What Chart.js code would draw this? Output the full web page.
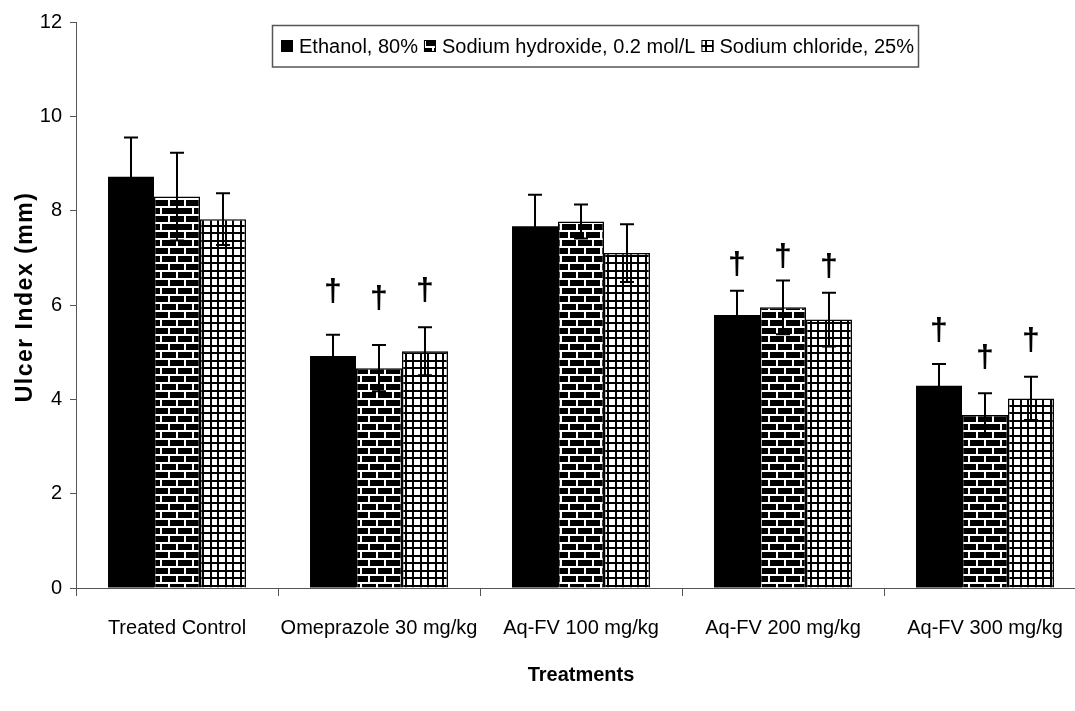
<!DOCTYPE html>
<html><head><meta charset="utf-8">
<script src="https://cdn.jsdelivr.net/npm/chart.js@4.4.1/dist/chart.umd.min.js"></script>
<style>html,body{margin:0;padding:0;background:#fff;overflow:hidden;width:1075px;height:711px}canvas{display:block}</style>
</head><body><canvas id="c" width="1090" height="711"></canvas>
<script>
const categories = ['Treated Control', 'Omeprazole 30 mg/kg', 'Aq-FV 100 mg/kg', 'Aq-FV 200 mg/kg', 'Aq-FV 300 mg/kg'];
const seriesNames = ['Ethanol, 80%', 'Sodium hydroxide, 0.2 mol/L', 'Sodium chloride, 25%'];
const ethanol = [8.72, 4.92, 7.67, 5.79, 4.29];
const ethanolErr = [0.83, 0.45, 0.67, 0.51, 0.46];
const naoh = [8.30, 4.66, 7.77, 5.95, 3.67];
const naohErr = [0.93, 0.49, 0.36, 0.57, 0.46];
const nacl = [7.82, 5.02, 7.10, 5.69, 4.02];
const naclErr = [0.55, 0.51, 0.61, 0.57, 0.46];
const daggerEthanol = [null, 6.28, null, 6.85, 5.45];
const daggerNaoh = [null, 6.13, null, 7.02, 4.88];
const daggerNacl = [null, 6.29, null, 6.81, 5.23];
const yTicks = [0, 2, 4, 6, 8, 10, 12];
const yTitle = 'Ulcer Index (mm)';
const xTitle = 'Treatments';
const markText = '\u2020';

const FONT = "'Liberation Sans', Arial, sans-serif";
Chart.defaults.font.family = FONT;
Chart.defaults.color = '#000';

function brickPattern() {
  const c = document.createElement('canvas'); c.width = 16; c.height = 16;
  const g = c.getContext('2d');
  g.fillStyle = '#000'; g.fillRect(0, 0, 16, 16);
  g.fillStyle = '#fff';
  g.fillRect(0, 6, 16, 2); g.fillRect(0, 14, 16, 2);
  g.fillRect(0, 0, 2, 6); g.fillRect(8, 8, 2, 6);
  return g.createPattern(c, 'repeat');
}
function gridPattern() {
  const c = document.createElement('canvas'); c.width = 15; c.height = 15;
  const g = c.getContext('2d');
  g.fillStyle = '#fff'; g.fillRect(0, 0, 15, 15);
  g.fillStyle = '#000';
  g.fillRect(0, 0, 15, 2); g.fillRect(0, 7, 15, 2);
  g.fillRect(0, 0, 2, 15); g.fillRect(7, 0, 2, 15);
  return g.createPattern(c, 'repeat');
}
const fills = ['#000', brickPattern(), gridPattern()];

const overlay = {
  id: 'overlay',
  afterDatasetsDraw(chart) {
    const ctx = chart.ctx, ys = chart.scales.y;
    chart.data.datasets.forEach((ds, i) => {
      const meta = chart.getDatasetMeta(i);
      meta.data.forEach((bar, j) => {
        const v = ds.data[j], e = ds.errors[j];
        const x = bar.x, yt = ys.getPixelForValue(v + e), yb = ys.getPixelForValue(v - e);
        ctx.save();
        ctx.strokeStyle = '#000'; ctx.lineWidth = 2;
        ctx.beginPath();
        ctx.moveTo(x, yb); ctx.lineTo(x, yt);
        ctx.moveTo(x - 7, yt); ctx.lineTo(x + 7, yt);
        ctx.moveTo(x - 7, yb); ctx.lineTo(x + 7, yb);
        ctx.stroke();
        const d = ds.daggers[j];
        if (d != null) {
          ctx.font = 'bold 32px ' + FONT;
          ctx.textAlign = 'center'; ctx.textBaseline = 'middle'; ctx.fillStyle = '#000';
          ctx.fillText(markText, x, ys.getPixelForValue(d));
        }
        ctx.restore();
      });
    });
  },
  afterDraw(chart) {
    const ctx = chart.ctx;
    // legend
    ctx.save();
    ctx.fillStyle = '#fff'; ctx.fillRect(272, 25, 646, 42);
    ctx.strokeStyle = '#555'; ctx.lineWidth = 1.5; ctx.strokeRect(272.5, 25.5, 646, 41.5);
    ctx.font = '20px ' + FONT;
    let x = 281; const cy = 46;
    seriesNames.forEach((name, i) => {
      ctx.fillStyle = fills[i]; ctx.fillRect(x, cy - 6, 12, 12);
      ctx.strokeStyle = '#000'; ctx.lineWidth = 1; ctx.strokeRect(x + 0.5, cy - 5.5, 11, 11);
      x += 12 + 6;
      ctx.fillStyle = '#000'; ctx.textAlign = 'left'; ctx.textBaseline = 'middle';
      ctx.fillText(name, x, cy + 1);
      x += ctx.measureText(name).width + 6;
    });
    ctx.restore();
    // y title
    ctx.save();
    ctx.translate(26, 297);
    ctx.rotate(-Math.PI / 2);
    ctx.font = 'bold 23px ' + FONT;
    ctx.letterSpacing = '1.5px';
    ctx.fillStyle = '#000'; ctx.textAlign = 'center'; ctx.textBaseline = 'middle';
    ctx.fillText(yTitle, 0, 0);
    ctx.restore();
  }
};

const mk = (i, data, errors, daggers) => ({
  label: seriesNames[i], data, errors, daggers,
  backgroundColor: fills[i], borderColor: '#000', borderWidth: i === 0 ? 0 : 1.5,
  categoryPercentage: 0.683, barPercentage: 1.0
});

new Chart(document.getElementById('c'), {
  type: 'bar',
  data: {
    labels: categories,
    datasets: [
      mk(0, ethanol, ethanolErr, daggerEthanol),
      mk(1, naoh, naohErr, daggerNaoh),
      mk(2, nacl, naclErr, daggerNacl)
    ]
  },
  options: {
    responsive: false, animation: false, devicePixelRatio: 1,
    layout: { padding: { top: 22, right: 4, bottom: 0, left: 0 } },
    plugins: { legend: { display: false }, tooltip: { enabled: false } },
    scales: {
      x: {
        grid: { drawOnChartArea: false, tickLength: 8, color: '#555', offset: true },
        border: { color: '#555', width: 1 },
        ticks: { font: { size: 20 }, padding: 20, maxRotation: 0, autoSkip: false },
        title: { display: true, text: xTitle, font: { size: 20, weight: 'bold' }, padding: { top: 0, bottom: 24 } },
        afterFit(s) { s.height = 123; }
      },
      y: {
        min: 0, max: 12,
        afterBuildTicks(s) { s.ticks = yTicks.map(v => ({ value: v })); },
        grid: { drawOnChartArea: false, tickLength: 6, color: '#555' },
        border: { color: '#555', width: 1 },
        ticks: { font: { size: 20 }, padding: 8 },
        afterFit(s) { s.width = 76; }
      }
    }
  },
  plugins: [overlay]
});
</script></body></html>
